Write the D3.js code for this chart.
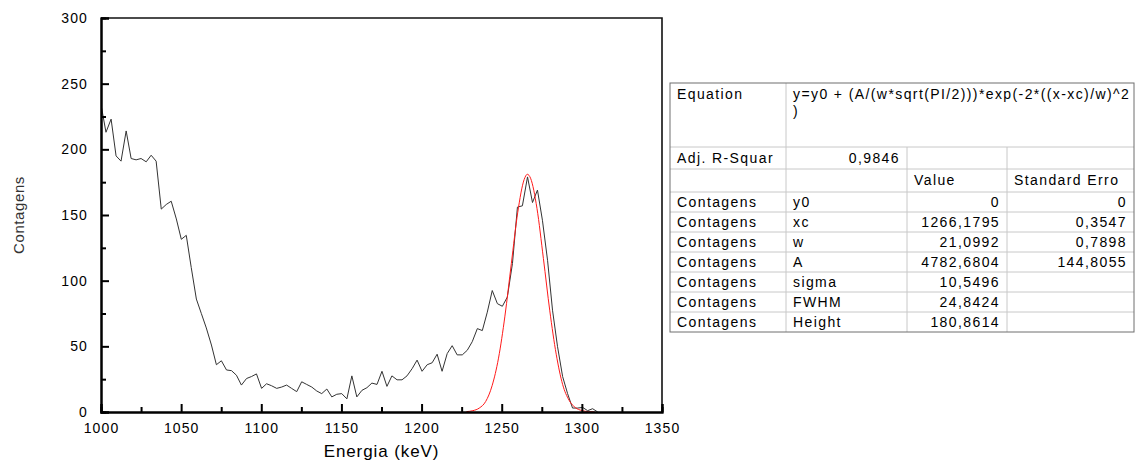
<!DOCTYPE html>
<html>
<head>
<meta charset="utf-8">
<script src="https://cdn.jsdelivr.net/npm/d3@7"></script>
<style>
    body { margin: 0; background: #fff; }
    #chart-area { width: 1136px; height: 468px; }
    .genText { font-family: "Liberation Sans", Arial, sans-serif; font-weight: normal; fill: #000; }
</style>
</head>
<body>
<div id="chart-area"></div>
<script>

// measured spectrum (energy in keV, counts)
const energies = [1000, 1003.1, 1006.3, 1009.4, 1012.5, 1015.7, 1018.8, 1021.9, 1025.0, 1028.2,
    1031.3, 1034.4, 1037.6, 1040.7, 1043.8, 1047.0, 1050.1, 1053.2, 1056.3, 1059.5,
    1062.6, 1065.7, 1068.9, 1072.0, 1075.1, 1078.3, 1081.4, 1084.5, 1087.6, 1090.8,
    1093.9, 1097.0, 1100.2, 1103.3, 1106.4, 1109.6, 1112.7, 1115.8, 1118.9, 1122.1,
    1125.2, 1128.3, 1131.5, 1134.6, 1137.7, 1140.9, 1144.0, 1147.1, 1150.2, 1153.4,
    1156.5, 1159.6, 1162.8, 1165.9, 1169.0, 1172.2, 1175.3, 1178.4, 1181.5, 1184.7,
    1187.8, 1190.9, 1194.1, 1197.2, 1200.3, 1203.5, 1206.6, 1209.7, 1212.8, 1216.0,
    1219.1, 1222.2, 1225.4, 1228.5, 1231.6, 1234.8, 1237.9, 1241.0, 1244.1, 1247.3,
    1250.4, 1253.5, 1256.7, 1259.8, 1262.9, 1266.1, 1269.2, 1272.3, 1275.4, 1278.6,
    1281.7, 1284.8, 1288.0, 1291.1, 1294.2, 1297.4, 1300.5, 1303.6, 1306.7, 1309.9];

const counts = [234, 213, 223, 195, 191, 214, 193, 192, 193, 190.5,
    195.5, 191, 154.5, 158, 160.5, 147, 131.5, 134.5, 110, 86,
    75, 64, 51, 36, 39, 32, 31.5, 28, 20.5, 25.5,
    27, 29, 18, 21.5, 20, 18, 19, 20.5, 18, 15.5,
    23, 21, 19, 16, 14, 17.5, 11.5, 13.5, 14, 10,
    27.5, 11.5, 16.5, 18.5, 22, 21, 31, 19.5, 27.5, 24.5,
    24.5, 27.5, 33, 39.5, 31, 36, 37.5, 44, 31, 44.5,
    50.5, 43.5, 43.5, 47, 53.5, 63.5, 62, 76, 92.5, 82.5,
    80.5, 87.5, 113, 156, 157, 179, 159.5, 169, 146, 115.5,
    77.5, 50, 27, 14, 3, 3, 3.5, 1, 2.5, 0];

// gaussian fit curve
const fitEnergies = [1228, 1232, 1236, 1240, 1244, 1248, 1252, 1256, 1260, 1264, 1266,
    1268, 1272, 1276, 1280, 1284, 1288, 1292, 1296, 1300, 1304, 1308];
const fitCounts = [0.3, 1, 3, 8, 20, 41, 73, 113, 152, 177, 181,
    178, 155, 117, 77, 44, 21, 9, 3.3, 1.1, 0.3, 0.1];

// axis ticks
const xTicks = [1000, 1050, 1100, 1150, 1200, 1250, 1300, 1350];
const xMinorTicks = [1025, 1075, 1125, 1175, 1225, 1275, 1325];
const yTicks = [0, 50, 100, 150, 200, 250, 300];
const yMinorTicks = [25, 75, 125, 175, 225, 275];

// fit result table
const eqLabel = "Equation";
const eqText = ["y=y0 + (A/(w*sqrt(PI/2)))*exp(-2*((x-xc)/w)^2", ")"];
const adjLabel = "Adj. R-Squar";
const adjValue = "0,9846";
const headers = ["Value", "Standard Erro"];
const paramNames = ["y0", "xc", "w", "A", "sigma", "FWHM", "Height"];
const paramValues = ["0", "1266,1795", "21,0992", "4782,6804", "10,5496", "24,8424", "180,8614"];
const paramErrors = ["0", "0,3547", "0,7898", "144,8055", "", "", ""];
const seriesName = "Contagens";


class SpectrumChart {

    constructor(parentElement) {
        this.parentElement = parentElement;
        this.initVis();
    }

    initVis() {
        let vis = this;

        vis.margin = {top: 18, right: 474, bottom: 56, left: 101};
        vis.width = 662 - vis.margin.left;
        vis.height = 412 - vis.margin.top;

        vis.root = d3.select("#" + vis.parentElement).append("svg")
            .attr("width", 1136)
            .attr("height", 468);

        vis.svg = vis.root.append("g")
            .attr("transform", "translate(" + vis.margin.left + "," + vis.margin.top + ")");

        // Scales
        vis.x = d3.scaleLinear().domain([1000, 1350]).range([0, vis.width]);
        vis.y = d3.scaleLinear().domain([0, 300]).range([vis.height, 0]);

        vis.wrangleData();
    }

    wrangleData() {
        let vis = this;
        vis.spectrum = energies.map((e, i) => ({x: e, y: counts[i]}));
        vis.fit = fitEnergies.map((e, i) => ({x: e, y: fitCounts[i]}));
        vis.updateVis();
    }

    updateVis() {
        let vis = this;

        vis.svg.append("defs").append("clipPath")
            .attr("id", "clip")
            .append("rect")
            .attr("width", vis.width)
            .attr("height", vis.height);

        let line = d3.line()
            .x(d => vis.x(d.x))
            .y(d => vis.y(d.y));

        vis.svg.append("path")
            .datum(vis.spectrum)
            .attr("clip-path", "url(#clip)")
            .attr("d", line)
            .attr("fill", "none")
            .attr("stroke", "#333")
            .attr("stroke-width", 1);

        vis.svg.append("path")
            .datum(vis.fit)
            .attr("clip-path", "url(#clip)")
            .attr("d", line.curve(d3.curveMonotoneX))
            .attr("fill", "none")
            .attr("stroke", "#ff1a1a")
            .attr("stroke-width", 1);

        // frame (top + right)
        vis.svg.append("path")
            .attr("d", "M0,0H" + vis.width + "V" + vis.height)
            .attr("fill", "none")
            .attr("stroke", "#111")
            .attr("stroke-width", 1.6);

        // axes, ticks pointing inward
        let xAxis = d3.axisBottom(vis.x).tickValues(xTicks).tickSize(-8).tickPadding(11)
            .tickFormat(d3.format("d"));
        let xMinor = d3.axisBottom(vis.x).tickValues(xMinorTicks).tickSize(-5).tickFormat("");
        let yAxis = d3.axisLeft(vis.y).tickValues(yTicks).tickSize(-8).tickPadding(13)
            .tickFormat(d3.format("d"));
        let yMinor = d3.axisLeft(vis.y).tickValues(yMinorTicks).tickSize(-5).tickFormat("");

        [xAxis, xMinor].forEach(ax => {
            vis.svg.append("g")
                .attr("class", "x-axis axis")
                .attr("transform", "translate(0," + vis.height + ")")
                .call(ax);
        });
        [yAxis, yMinor].forEach(ax => {
            vis.svg.append("g")
                .attr("class", "y-axis axis")
                .call(ax);
        });

        vis.svg.selectAll(".axis path.domain")
            .attr("stroke", "#000")
            .attr("stroke-width", 2);
        vis.svg.selectAll(".axis .tick line")
            .attr("stroke", "#000")
            .attr("stroke-width", 2);
        vis.svg.selectAll(".axis text")
            .attr("class", "genText")
            .attr("font-size", "14px")
            .style("letter-spacing", "1.1px");

        // axis labels
        vis.svg.append("text")
            .attr("class", "genText")
            .attr("text-anchor", "middle")
            .attr("x", vis.width / 2)
            .attr("y", vis.height + 45)
            .attr("font-size", "17px")
            .style("letter-spacing", "0.9px")
            .text("Energia (keV)");

        vis.svg.append("text")
            .attr("class", "genText")
            .attr("text-anchor", "middle")
            .attr("transform", "translate(-77," + (vis.height / 2) + ") rotate(-90)")
            .attr("font-size", "15px")
            .style("fill", "#333")
            .style("letter-spacing", "0.6px")
            .text("Contagens");

        vis.drawTable();
    }

    drawTable() {
        let vis = this;

        let cols = [670, 786, 907, 1007, 1134];
        let rowLines = [83, 147, 169, 192, 212, 232, 252, 272, 292, 312, 332];

        let table = vis.root.append("g").attr("class", "fit-table");

        // inner grid
        rowLines.slice(1, -1).forEach(y => {
            table.append("line")
                .attr("x1", cols[0]).attr("x2", cols[4])
                .attr("y1", y).attr("y2", y)
                .attr("stroke", "#c8c8c8");
        });
        cols.slice(1, -1).forEach((x, i) => {
            // the equation row spans columns 2-4
            let y0 = i === 0 ? rowLines[0] : rowLines[1];
            table.append("line")
                .attr("x1", x).attr("x2", x)
                .attr("y1", y0).attr("y2", rowLines[10])
                .attr("stroke", "#c8c8c8");
        });
        table.append("rect")
            .attr("x", cols[0]).attr("y", rowLines[0])
            .attr("width", cols[4] - cols[0])
            .attr("height", rowLines[10] - rowLines[0])
            .attr("fill", "none")
            .attr("stroke", "#6e6e6e");

        let cell = (txt, x, y, anchor) => {
            table.append("text")
                .attr("class", "genText")
                .attr("x", x).attr("y", y)
                .attr("dy", "0.35em")
                .attr("text-anchor", anchor)
                .attr("font-size", "14px")
                .style("letter-spacing", "1.4px")
                .text(txt);
        };

        let mid = i => (rowLines[i] + rowLines[i + 1]) / 2;
        let pad = 7;

        cell(eqLabel, cols[0] + pad, 94, "start");
        cell(eqText[0], cols[1] + pad, 94, "start");
        cell(eqText[1], cols[1] + pad, 111, "start");

        cell(adjLabel, cols[0] + pad, mid(1), "start");
        cell(adjValue, cols[2] - pad, mid(1), "end");

        cell(headers[0], cols[2] + pad, mid(2), "start");
        cell(headers[1], cols[3] + pad, mid(2), "start");

        paramNames.forEach((p, i) => {
            let y = mid(3 + i);
            cell(seriesName, cols[0] + pad, y, "start");
            cell(p, cols[1] + pad, y, "start");
            cell(paramValues[i], cols[3] - pad, y, "end");
            cell(paramErrors[i], cols[4] - pad, y, "end");
        });
    }
}

new SpectrumChart("chart-area");
</script>
</body>
</html>
